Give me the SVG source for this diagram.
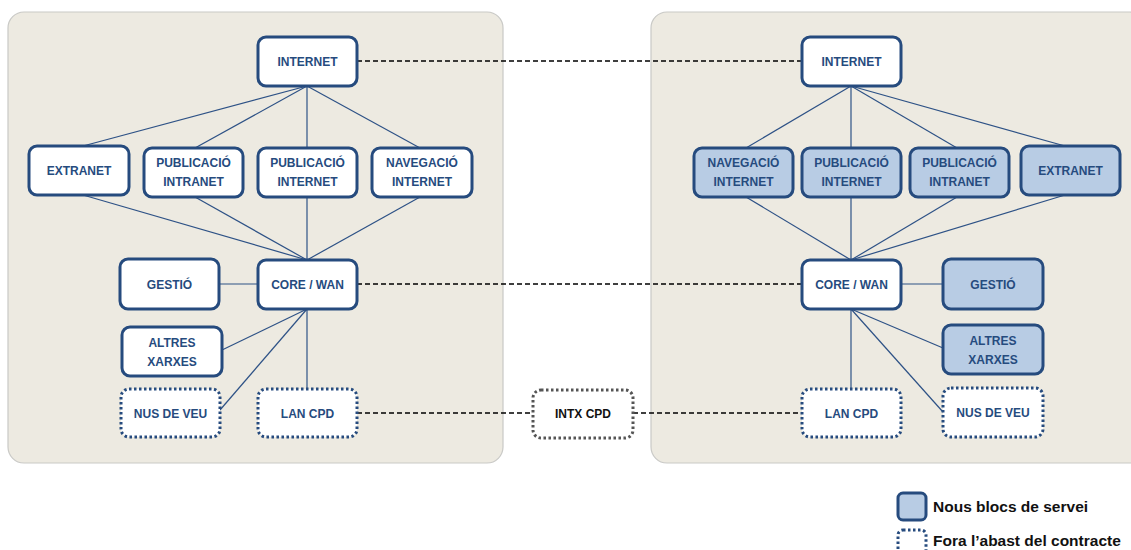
<svg xmlns="http://www.w3.org/2000/svg" width="1131" height="550" viewBox="0 0 1131 550">
<style>
.panel{fill:#EDEAE1;stroke:#C9C9C6;stroke-width:1.2}
.n{fill:#FFFFFF;stroke:#264B7E;stroke-width:3}
.nb{fill:#B8CCE4;stroke:#264B7E;stroke-width:3}
.nd{fill:#FFFFFF;stroke:#264B7E;stroke-width:3;stroke-dasharray:2.5 2.5}
.ndk{fill:#FFFFFF;stroke:#555555;stroke-width:3;stroke-dasharray:2.5 2.5}
.t{font-family:"Liberation Sans",Arial,sans-serif;font-weight:bold;font-size:12px;fill:#264B7E;text-anchor:middle}
.tk{font-family:"Liberation Sans",Arial,sans-serif;font-weight:bold;font-size:12px;fill:#111111;text-anchor:middle}
.lg{font-family:"Liberation Sans",Arial,sans-serif;font-weight:bold;font-size:15.5px;fill:#111111}
.l{stroke:#2E5286;stroke-width:1.2;fill:none}
.d{stroke:#000000;stroke-width:1.3;fill:none;stroke-dasharray:5 3}
</style>
<rect width="1131" height="550" fill="#FFFFFF"/>
<rect class="panel" x="8" y="12" width="495" height="451" rx="16"/>
<rect class="panel" x="651" y="12" width="495" height="451" rx="16"/>
<g id="connectors">
<line class="l" x1="307" y1="86" x2="83" y2="146"/>
<line class="l" x1="307" y1="86" x2="195" y2="148"/>
<line class="l" x1="307" y1="86" x2="307" y2="148"/>
<line class="l" x1="307" y1="86" x2="420" y2="148"/>
<line class="l" x1="83" y1="195" x2="307" y2="260"/>
<line class="l" x1="195" y1="197" x2="307" y2="260"/>
<line class="l" x1="307" y1="197" x2="307" y2="260"/>
<line class="l" x1="420" y1="197" x2="307" y2="260"/>
<line class="l" x1="219" y1="284" x2="258" y2="284"/>
<line class="l" x1="307" y1="309" x2="222" y2="350"/>
<line class="l" x1="307" y1="309" x2="220" y2="410"/>
<line class="l" x1="307" y1="309" x2="307" y2="389"/>
<line class="l" x1="851" y1="86" x2="746" y2="148"/>
<line class="l" x1="851" y1="86" x2="851" y2="148"/>
<line class="l" x1="851" y1="86" x2="957" y2="148"/>
<line class="l" x1="851" y1="86" x2="1065" y2="146"/>
<line class="l" x1="746" y1="197" x2="851" y2="260"/>
<line class="l" x1="851" y1="197" x2="851" y2="260"/>
<line class="l" x1="957" y1="197" x2="851" y2="260"/>
<line class="l" x1="1065" y1="195" x2="851" y2="260"/>
<line class="l" x1="901" y1="284" x2="943" y2="284"/>
<line class="l" x1="851" y1="309" x2="943" y2="348"/>
<line class="l" x1="851" y1="309" x2="943" y2="412"/>
<line class="l" x1="851" y1="309" x2="851" y2="389"/>
<line class="d" x1="357" y1="61" x2="802" y2="61"/>
<line class="d" x1="357" y1="284" x2="802" y2="284"/>
<line class="d" x1="357" y1="413" x2="533" y2="413"/>
<line class="d" x1="633" y1="413" x2="802" y2="413"/>
</g>
<g id="l-internet"><rect class="n" x="258" y="37" width="99" height="49" rx="8"/><text class="t" x="307.5" y="66">INTERNET</text></g>
<g id="l-extranet"><rect class="n" x="29" y="146" width="100" height="49" rx="8"/><text class="t" x="79" y="175">EXTRANET</text></g>
<g id="l-pubintranet"><rect class="n" x="144" y="148" width="99" height="49" rx="8"/><text class="t" x="193.5" y="167">PUBLICACIÓ</text><text class="t" x="193.5" y="186">INTRANET</text></g>
<g id="l-pubinternet"><rect class="n" x="258" y="148" width="99" height="49" rx="8"/><text class="t" x="307.5" y="167">PUBLICACIÓ</text><text class="t" x="307.5" y="186">INTERNET</text></g>
<g id="l-navinternet"><rect class="n" x="372" y="148" width="100" height="49" rx="8"/><text class="t" x="422" y="167">NAVEGACIÓ</text><text class="t" x="422" y="186">INTERNET</text></g>
<g id="l-gestio"><rect class="n" x="120" y="259" width="99" height="50" rx="8"/><text class="t" x="169.5" y="289">GESTIÓ</text></g>
<g id="l-core"><rect class="n" x="258" y="260" width="99" height="49" rx="8"/><text class="t" x="307.5" y="289">CORE / WAN</text></g>
<g id="l-altres"><rect class="n" x="122" y="327" width="100" height="49" rx="8"/><text class="t" x="172" y="347">ALTRES</text><text class="t" x="172" y="366">XARXES</text></g>
<g id="l-nus"><rect class="nd" x="121" y="389" width="99" height="48" rx="8"/><text class="t" x="170.5" y="418">NUS DE VEU</text></g>
<g id="l-lan"><rect class="nd" x="258" y="389" width="99" height="48" rx="8"/><text class="t" x="307.5" y="418">LAN CPD</text></g>
<g id="intx"><rect class="ndk" x="533" y="390" width="100" height="48" rx="8"/><text class="tk" x="583" y="418">INTX CPD</text></g>
<g id="r-internet"><rect class="n" x="802" y="37" width="99" height="49" rx="8"/><text class="t" x="851.5" y="66">INTERNET</text></g>
<g id="r-navinternet"><rect class="nb" x="694" y="148" width="99" height="49" rx="8"/><text class="t" x="743.5" y="167">NAVEGACIÓ</text><text class="t" x="743.5" y="186">INTERNET</text></g>
<g id="r-pubinternet"><rect class="nb" x="802" y="148" width="99" height="49" rx="8"/><text class="t" x="851.5" y="167">PUBLICACIÓ</text><text class="t" x="851.5" y="186">INTERNET</text></g>
<g id="r-pubintranet"><rect class="nb" x="910" y="148" width="99" height="49" rx="8"/><text class="t" x="959.5" y="167">PUBLICACIÓ</text><text class="t" x="959.5" y="186">INTRANET</text></g>
<g id="r-extranet"><rect class="nb" x="1021" y="146" width="99" height="49" rx="8"/><text class="t" x="1070.5" y="175">EXTRANET</text></g>
<g id="r-core"><rect class="n" x="802" y="260" width="99" height="49" rx="8"/><text class="t" x="851.5" y="289">CORE / WAN</text></g>
<g id="r-gestio"><rect class="nb" x="943" y="259" width="100" height="50" rx="8"/><text class="t" x="993" y="289">GESTIÓ</text></g>
<g id="r-altres"><rect class="nb" x="943" y="325" width="100" height="49" rx="8"/><text class="t" x="993" y="345">ALTRES</text><text class="t" x="993" y="364">XARXES</text></g>
<g id="r-lan"><rect class="nd" x="802" y="389" width="99" height="48" rx="8"/><text class="t" x="851.5" y="418">LAN CPD</text></g>
<g id="r-nus"><rect class="nd" x="943" y="388" width="100" height="49" rx="8"/><text class="t" x="993" y="417">NUS DE VEU</text></g>
<g id="legend">
<rect class="nb" x="898" y="493" width="28" height="27" rx="5"/>
<text class="lg" x="933" y="512">Nous blocs de servei</text>
<rect class="nd" x="898" y="530" width="28" height="30" rx="5"/>
<text class="lg" x="933" y="546">Fora l’abast del contracte</text>
</g>
</svg>
